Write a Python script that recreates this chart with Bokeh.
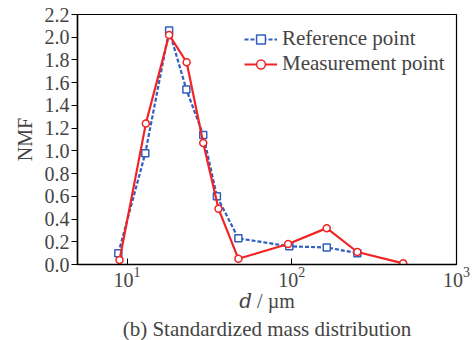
from bokeh.plotting import figure
from bokeh.models import Range1d, Legend, LegendItem, Title, FixedTicker, NumeralTickFormatter
from bokeh.embed import file_html
from bokeh.resources import INLINE

# Data
ref_d = [8.85, 12.9, 18.0, 22.9, 29.0, 35.1, 47.4, 96.6, 163, 250]
ref_nmf = [0.10, 0.98, 2.06, 1.54, 1.14, 0.60, 0.23, 0.16, 0.15, 0.10]
meas_d = [9.0, 13.0, 18.0, 23.0, 29.0, 35.9, 47.4, 95, 163, 250, 475]
meas_nmf = [0.04, 1.24, 2.02, 1.78, 1.07, 0.49, 0.05, 0.18, 0.32, 0.11, 0.01]
y_ticks = [0.0, 0.2, 0.4, 0.6, 0.8, 1.0, 1.2, 1.4, 1.6, 1.8, 2.0, 2.2]
x_ticks = [10, 100, 1000]

FONT = "Liberation Serif"
BLUE = "#2f5fbf"
RED = "#f02424"

p = figure(width=472, height=340, x_axis_type="log",
           x_range=Range1d(5, 1000), y_range=Range1d(0, 2.2),
           output_backend="svg", toolbar_location=None,
           min_border_left=77, min_border_right=16, min_border_top=14, min_border_bottom=73)

p.grid.visible = False
p.outline_line_color = "black"
p.outline_line_width = 1.2

r1 = p.line(ref_d, ref_nmf, line_color=BLUE, line_width=2.2, line_dash="4 2")
s1 = p.scatter(ref_d, ref_nmf, marker="square", size=7, line_color=BLUE, line_width=1.5, fill_color="white")
r2 = p.line(meas_d, meas_nmf, line_color=RED, line_width=2.2)
s2 = p.scatter(meas_d, meas_nmf, marker="circle", size=7, line_color=RED, line_width=1.5, fill_color="white")

legend = Legend(items=[LegendItem(label="Reference point", renderers=[r1, s1]),
                       LegendItem(label="Measurement point", renderers=[r2, s2])],
                location=(167, 188), border_line_color=None, background_fill_alpha=0,
                padding=0, spacing=-2, glyph_width=33, glyph_height=22, label_standoff=5,
                label_text_font=FONT, label_text_font_size="21px", label_height=22)
p.add_layout(legend)

xa = p.xaxis[0]
xa.ticker = FixedTicker(ticks=x_ticks, minor_ticks=[])
xa.major_tick_in = 6
xa.major_tick_out = 0
xa.minor_tick_in = 0
xa.minor_tick_out = 0
xa.major_label_text_font = FONT
xa.major_label_text_font_size = "20px"
xa.major_label_standoff = 2
xa.axis_line_width = 1.5
xa.axis_label = "\U0001D451 / µm"
xa.axis_label_text_font = "'Liberation Serif', 'DejaVu Serif', serif"
xa.axis_label_text_font_size = "20px"
xa.axis_label_text_font_style = "normal"
xa.axis_label_standoff = 0

ya = p.yaxis[0]
ya.ticker = FixedTicker(ticks=y_ticks)
ya.formatter = NumeralTickFormatter(format="0.0")
ya.major_tick_in = 0
ya.major_tick_out = 6
ya.minor_tick_in = 0
ya.minor_tick_out = 0
ya.major_label_text_font = FONT
ya.major_label_text_font_size = "20px"
ya.major_label_standoff = 2
ya.axis_label = "NMF"
ya.axis_label_text_font = FONT
ya.axis_label_text_font_size = "20px"
ya.axis_label_text_font_style = "normal"
ya.axis_label_standoff = 6
ya.axis_line_width = 1.5

cap = Title(text="(b) Standardized mass distribution", align="center",
            text_font=FONT, text_font_size="21px", text_font_style="normal",
            standoff=0, offset=0)
p.add_layout(cap, "below")

open("out.html", "w").write(file_html(p, INLINE))
